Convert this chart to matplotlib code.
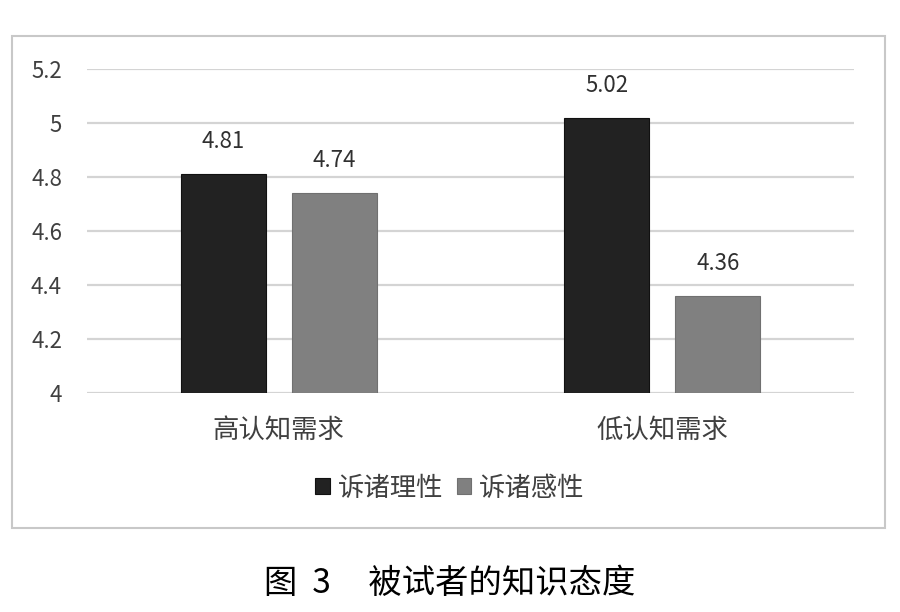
import numpy as np
import matplotlib
matplotlib.use("Agg")
import matplotlib.pyplot as plt
from matplotlib.patches import Rectangle

plt.rcParams['font.family'] = ['Noto Sans CJK SC', 'DejaVu Sans']

# data
categories = ['高认知需求', '低认知需求']
series_names = ['诉诸理性', '诉诸感性']
rational = [4.81, 5.02]
emotional = [4.74, 4.36]
yticks = [4, 4.2, 4.4, 4.6, 4.8, 5, 5.2]
ytick_labels = ['4', '4.2', '4.4', '4.6', '4.8', '5', '5.2']
caption = '图  3     被试者的知识态度'

text_col = '#404040'
fig = plt.figure(figsize=(9, 6.12), dpi=100)

# chart frame
fig.patches.append(Rectangle((12 / 900, 1 - 528 / 612), 873 / 900, 492 / 612,
                             transform=fig.transFigure, fill=False,
                             edgecolor='#c8c8c8', linewidth=1.5))

ax = fig.add_axes([87 / 900, 1 - 393 / 612, 767 / 900, 324 / 612])
x = np.arange(len(categories))
w = 0.222
off = 0.145
b1 = ax.bar(x - off, [v - 4 for v in rational], w, bottom=4, color='#222222',
            edgecolor='#111111', linewidth=0.8, label=series_names[0], zorder=3)
b2 = ax.bar(x + off, [v - 4 for v in emotional], w, bottom=4, color='#808080',
            edgecolor='#707070', linewidth=0.8, label=series_names[1], zorder=3)

for bars, vals in ((b1, rational), (b2, emotional)):
    for r, v in zip(bars, vals):
        ax.annotate(f'{v:.2f}', (r.get_x() + r.get_width() / 2, v),
                    xytext=(0, 15), textcoords='offset points',
                    ha='center', va='bottom', fontsize=16, color='#303030')

ax.set_xlim(-0.5, 1.5)
ax.set_ylim(4, 5.2)
ax.set_yticks(yticks)
ax.set_yticklabels(ytick_labels)
ax.set_xticks(x)
ax.set_xticklabels(categories)
ax.tick_params(axis='y', length=0, pad=18, labelsize=16, labelcolor=text_col)
ax.tick_params(axis='x', length=0, pad=17, labelsize=19, labelcolor=text_col)
ax.yaxis.grid(True, color='#d4d4d4', linewidth=1.6, zorder=0)
ax.set_axisbelow(True)
for s in ax.spines.values():
    s.set_visible(False)

fig.legend(handles=[b1, b2], loc='center', bbox_to_anchor=(450 / 900, 1 - 488 / 612),
           ncol=2, frameon=False, fontsize=19, labelcolor=text_col,
           handlelength=0.55, handleheight=0.55, handletextpad=0.3, columnspacing=0.5)

fig.text(450 / 900, 1 - 583 / 612, caption, ha='center', va='center',
         fontsize=24, color='black')

fig.savefig('out.png', dpi=100)
